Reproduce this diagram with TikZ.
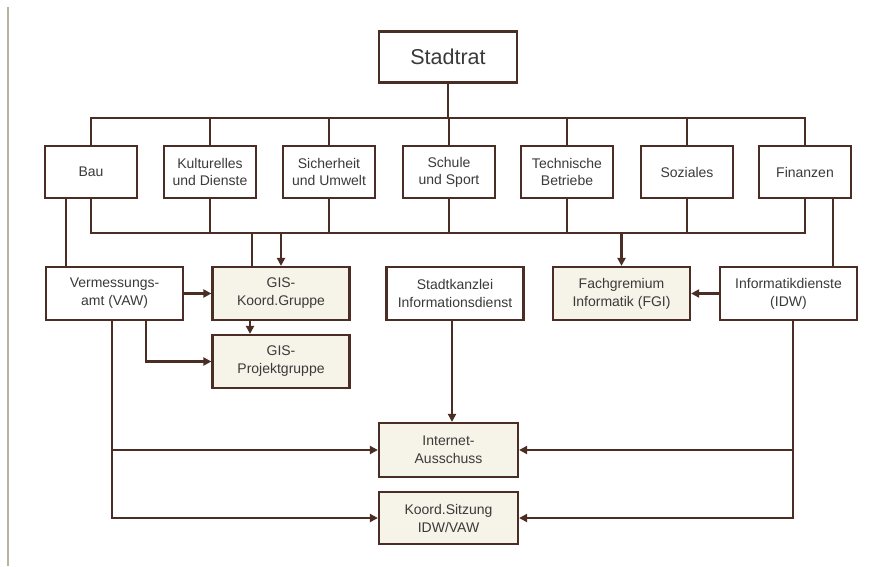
\documentclass[tikz,border=0pt]{standalone}
\usepackage{fontspec}
\setmainfont{Liberation Sans}
\usetikzlibrary{arrows.meta,positioning}
\definecolor{linebrown}{HTML}{4A2E26}
\definecolor{boxfill}{HTML}{F6F3E8}
\definecolor{textgray}{HTML}{3A3A3A}
\definecolor{edgegray}{HTML}{B8B4A0}
\begin{document}
\begin{tikzpicture}[x=1pt, y=-1pt, line width = 2.2pt, >={Triangle[length=8pt,width=8pt]}]

  \tikzstyle{box} = [draw = linebrown, fill = white, inner sep = 0pt, align = center, text = textgray]
    \tikzstyle{dept} = [box, minimum width = 92pt, minimum height = 52pt, font = \fontsize{14}{17}\selectfont]
    \tikzstyle{unit} = [box, minimum width = 137pt, minimum height = 53pt, font = \fontsize{14}{18}\selectfont]
    \tikzstyle{group} = [unit, fill = boxfill]
    \tikzstyle{link} = [draw = linebrown]

    \useasboundingbox[fill = white] (0,0) rectangle (885,566);
    \draw[edgegray, line width = 1.4pt] (8,7) -- (8,566);

    \node[box, minimum width = 138pt, minimum height = 51pt, font = \fontsize{21.5}{24}\selectfont] (stadtrat) at (448,57) {Stadtrat};

    \node[dept] (bau) at (91,172) {Bau};
    \node[dept] (kultur) at (210,172) {Kulturelles\\und Dienste};
    \node[dept] (sicher) at (329,172) {Sicherheit\\und Umwelt};
    \node[dept] (schule) at (449,172) {Schule\\und Sport};
    \node[dept] (technik) at (567,172) {Technische\\Betriebe};
    \node[dept] (sozial) at (687,172) {Soziales};
    \node[dept] (finanz) at (805,172) {Finanzen};

    \node[unit] (verm) at (114.5,293.5) {Vermessungs-\\amt (VAW)};
    \node[group] (gisk) at (281,293.5) {GIS-\\Koord.Gruppe};
    \node[unit] (kanzlei) at (455,293.5) {Stadtkanzlei\\Informationsdienst};
    \node[group] (fgi) at (621.5,293.5) {Fachgremium\\Informatik (FGI)};
    \node[unit] (idw) at (788.5,293.5) {Informatikdienste\\(IDW)};
    \node[group] (gisp) at (281,361.5) {GIS-\\Projektgruppe};
    \node[group, minimum width = 139pt, minimum height = 54pt] (inet) at (448.5,450) {Internet-\\Ausschuss};
    \node[group, minimum width = 139pt, minimum height = 52pt] (koord) at (448.5,518) {Koord.Sitzung\\IDW/VAW};

    % Stadtrat to departments
    \coordinate (topbus) at (0,118);
    \coordinate (lowbus) at (0,233);
    \draw[link] (stadtrat.south) -- (stadtrat.south |- topbus);
    \draw[link] (bau.north) -- (bau.north |- topbus) -- (finanz.north |- topbus) -- (finanz.north);
    \foreach \d in {kultur, sicher, schule, technik, sozial}
      \draw[link] (\d.north) -- (\d.north |- topbus);

    % departments to the groups
    \draw[link] (bau.south) -- (bau.south |- lowbus) -- (finanz.south |- lowbus) -- (finanz.south);
    \foreach \d in {kultur, sicher, schule, technik, sozial}
      \draw[link] (\d.south) -- (\d.south |- lowbus);
    \draw[link] ([xshift=-29pt]gisk.north |- lowbus) -- ([xshift=-29pt]gisk.north);
    \draw[link, ->] (gisk.north |- lowbus) -- (gisk.north);
    \draw[link, ->] (fgi.north |- lowbus) -- (fgi.north);
    \draw[link] ([xshift=-25pt]bau.south) -- ([xshift=-25pt]bau.south |- verm.north);
    \draw[link] ([xshift=28pt]finanz.south) -- ([xshift=28pt]finanz.south |- idw.north);

    % units
    \draw[link, ->] (verm) -- (gisk);
    \draw[link, ->] (idw) -- (fgi);
    \draw[link, ->] ([xshift=-31pt]gisk.south) -- ([xshift=-31pt]gisk.south |- gisp.north);
    \draw[link, ->] ([xshift=31.5pt]verm.south) |- (gisp.west);
    \draw[link, ->] ([xshift=-2.5pt]verm.south) |- (inet.west);
    \draw[link, ->] ([xshift=-2.5pt]verm.south) |- (koord.west);
    \draw[link, ->] ([xshift=-3pt]kanzlei.south) -- ([xshift=-3pt]kanzlei.south |- inet.north);
    \draw[link, ->] ([xshift=4.5pt]idw.south) |- (inet.east);
    \draw[link, ->] ([xshift=4.5pt]idw.south) |- (koord.east);
\end{tikzpicture}
\end{document}
